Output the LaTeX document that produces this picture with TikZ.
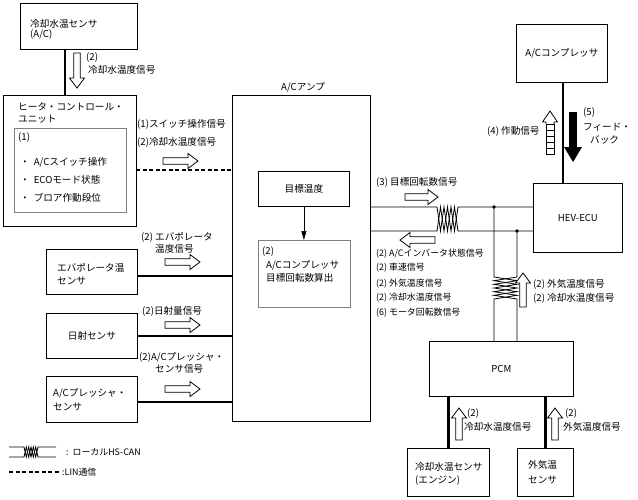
\documentclass[tikz,border=0pt]{standalone}
\usepackage{fontspec}
\setmainfont{Noto Sans CJK JP}
\usetikzlibrary{arrows.meta,calc}
\newcommand{\fsA}{\fontsize{9.6}{11}\selectfont}
\newcommand{\fsB}{\fontsize{8.9}{10}\selectfont}
\tikzset{
 box/.style={draw, line width=0.8pt, inner sep=0, anchor=north west},
 gbox/.style={draw=black!50, line width=0.8pt, inner sep=0, anchor=north west},
 thk/.style={line width=2.4pt},
 bus/.style={line width=0.8pt},
 lin/.style={line width=1.3pt, dash pattern=on 4pt off 2.5pt},
 lbl/.style={anchor=west, inner sep=0, font=\fsA},
 lbls/.style={anchor=west, inner sep=0, font=\fsB},
 ctr/.style={inner sep=0, font=\fsA},
 harr/.style={draw, fill=white, line width=0.8pt},
}
\newcommand{\hollowArrow}[4]{%
 \begin{scope}[shift={(#1,#2)},rotate=#3]
 \draw[harr] (0,-3.2) -- ({#4-10},-3.2) -- ({#4-10},-7.5) -- (#4,0) -- ({#4-10},7.5) -- ({#4-10},3.2) -- (0,3.2) -- cycle;
 \end{scope}}
\begin{document}
\begin{tikzpicture}[x=1pt,y=-1pt]
\useasboundingbox (0,0) rectangle (638,499);
% ---------- boxes ----------
\node[box, minimum width=117pt, minimum height=46pt] (accs) at (20,3) {};
\node[box, minimum width=133pt, minimum height=131pt] (hcu) at (3,95) {};
\node[gbox, minimum width=112pt, minimum height=84pt] (hcuin) at (14,128) {};
\node[box, minimum width=138pt, minimum height=326pt] (amp) at (232,95) {};
\node[box, minimum width=91pt, minimum height=35pt] (tgt) at (258,171) {};
\node[gbox, minimum width=92pt, minimum height=67pt] (calc) at (258,240) {};
\node[box, minimum width=91pt, minimum height=45pt] (evap) at (46,249) {};
\node[box, minimum width=91pt, minimum height=45pt] (solar) at (46,313) {};
\node[box, minimum width=91pt, minimum height=46pt] (press) at (46,376) {};
\node[box, minimum width=91pt, minimum height=58pt] (comp) at (516,24) {};
\node[box, minimum width=89pt, minimum height=69pt] (ecu) at (533,183) {};
\node[box, minimum width=144pt, minimum height=55pt] (pcm) at (429,341) {};
\node[box, minimum width=82pt, minimum height=48pt] (ects) at (407,448) {};
\node[box, minimum width=56pt, minimum height=48pt] (oats) at (517,448) {};
% ---------- box texts ----------
\node[lbl] (accsA) at (30,24) {冷却水温センサ};
\node[lbl] (accsB) at (30,35) {(A/C)};
\node[lbl] (hcuA) at (18,107) {ヒータ・コントロール・};
\node[lbl] (hcuB) at (18,119) {ユニット};
\node[lbl] (inA) at (18,138) {(1)};
\node[lbl] (inB) at (20,162) {・\hspace{4pt}A/Cスイッチ操作};
\node[lbl] (inC) at (20,180) {・\hspace{4pt}ECOモード状態};
\node[lbl] (inD) at (20,198) {・\hspace{4pt}ブロア作動段位};
\node[lbl] (ampL) at (281,87) {A/Cアンプ};
\node[ctr] (tgtT) at (tgt.center) {目標温度};
\node[lbl] (calcA) at (262,252) {(2)};
\node[lbl] (calcB) at (266,265) {A/Cコンプレッサ};
\node[lbl] (calcC) at (266,278) {目標回転数算出};
\node[lbl] (evapA) at (57,268) {エバポレータ温};
\node[lbl] (evapB) at (57,281) {センサ};
\node[ctr] (solarT) at (solar.center) {日射センサ};
\node[lbl] (pressA) at (53,393) {A/Cプレッシャ・};
\node[lbl] (pressB) at (53,407) {センサ};
\node[ctr] (compT) at (comp.center) {A/Cコンプレッサ};
\node[ctr] (ecuT) at (ecu.center) {HEV-ECU};
\node[ctr] (pcmT) at (pcm.center) {PCM};
\node[lbl] (ectsA) at (415,467) {冷却水温センサ};
\node[lbl] (ectsB) at (415,481) {(エンジン)};
\node[lbl] (oatsA) at (528,465) {外気温};
\node[lbl] (oatsB) at (528,480) {センサ};
% ---------- connectors ----------
\coordinate (c1) at (65,49);
\draw[thk] (c1) -- (c1 |- hcu.north);
\coordinate (d1) at (136,170);
\draw[lin] (d1) -- (d1 -| amp.west);
\coordinate (e1) at (137,276);
\draw[thk] (e1) -- (e1 -| amp.west);
\coordinate (s1) at (137,336);
\draw[thk] (s1) -- (s1 -| amp.west);
\coordinate (p1) at (137,402);
\draw[thk] (p1) -- (p1 -| amp.west);
\coordinate (k1) at (563,82);
\draw[thk] (k1) -- (k1 |- ecu.north);
\draw[thk] (ects.north) -- (ects.north |- pcm.south);
\draw[thk] (oats.north) -- (oats.north |- pcm.south);
\draw[-{Triangle[length=9pt,width=5pt]}, line width=0.7pt] (tgt.south) -- (tgt.south |- calc.north);
% bus
\coordinate (bt) at (370,207);
\coordinate (bb) at (370,231);
\coordinate (j1) at (494,207);
\coordinate (j2) at (517,231);
\draw[bus] (bt) -- (437,207) -- (440.5,231) -- (444,207) -- (447.5,231) -- (451,207) -- (454.5,231) -- (458,207) -- (bt -| ecu.west);
\draw[bus] (bb) -- (437,231) -- (440.5,207) -- (444,231) -- (447.5,207) -- (451,231) -- (454.5,207) -- (458,231) -- (bb -| ecu.west);
\draw[bus] (j1) -- (494,277) -- (517,280.67) -- (494,284.33) -- (517,288) -- (494,291.67) -- (517,295.33) -- (494,299) -- (j1 |- pcm.north);
\draw[bus] (j2) -- (517,277) -- (494,280.67) -- (517,284.33) -- (494,288) -- (517,291.67) -- (494,295.33) -- (517,299) -- (j2 |- pcm.north);
\fill (j1) circle (1.8pt);
\fill (j2) circle (1.8pt);
% ---------- signal arrows ----------
\hollowArrow{77}{53}{-90}{35}
\hollowArrow{163}{161}{0}{35}
\hollowArrow{165}{262}{0}{35}
\hollowArrow{165}{325}{0}{35}
\hollowArrow{165}{389}{0}{35}
\hollowArrow{405}{197}{0}{33}
\hollowArrow{435}{240}{180}{35}
\hollowArrow{523}{307}{90}{34}
\hollowArrow{459}{440}{90}{32}
\hollowArrow{555}{440}{90}{32}
% (4) segmented arrow
\draw[harr] (546,124) -- (546,122) -- (542.5,122) -- (550,111) -- (557.5,122) -- (554,122) -- (554,124);
\draw[harr] (546,124) rectangle (554,154);
\foreach \yy in {130,136,142,148} \draw[line width=0.8pt] (546,\yy) -- (554,\yy);
% (5) filled arrow
\fill (569,112) rectangle (577,147);
\fill (564,147) -- (582,147) -- (573,162) -- cycle;
% ---------- signal labels ----------
\node[lbl] (l1) at (86,58) {(2)};
\node[lbl] (l2) at (88,70) {冷却水温度信号};
\node[lbl] (l3) at (137,124) {(1)スイッチ操作信号};
\node[lbl] (l4) at (137,142) {(2)冷却水温度信号};
\node[lbl] (l5) at (141,237) {(2) エバポレータ};
\node[lbl] (l6) at (155,249) {温度信号};
\node[lbl] (l7) at (142,311) {(2)日射量信号};
\node[lbl] (l8) at (139,357) {(2)A/Cプレッシャ・};
\node[lbl] (l9) at (155,369) {センサ信号};
\node[lbl] (l10) at (376,182) {(3) 目標回転数信号};
\node[lbls] (l11) at (376,254) {(2) A/Cインバータ状態信号};
\node[lbls] (l12) at (376,268) {(2) 車速信号};
\node[lbls] (l13) at (376,284) {(2) 外気温度信号};
\node[lbls] (l14) at (376,298) {(2) 冷却水温度信号};
\node[lbls] (l15) at (376,313) {(6) モータ回転数信号};
\node[lbl] (l16) at (533,284) {(2) 外気温度信号};
\node[lbl] (l17) at (533,298) {(2) 冷却水温度信号};
\node[lbl] (l18) at (467,414) {(2)};
\node[lbl] (l19) at (464,427) {冷却水温度信号};
\node[lbl] (l20) at (565,414) {(2)};
\node[lbl] (l21) at (563,427) {外気温度信号};
\node[lbl] (l22) at (487,131) {(4) 作動信号};
\node[lbl] (l23) at (583,113) {(5)};
\node[lbl] (l24) at (583,127) {フィード・};
\node[lbl] (l25) at (590,140) {バック};
% ---------- legend ----------
\draw[bus] (9,447) -- (24,447) -- (26.33,457) -- (28.67,447) -- (31,457) -- (33.33,447) -- (35.67,457) -- (38,447) -- (56,447);
\draw[bus] (9,457) -- (24,457) -- (26.33,447) -- (28.67,457) -- (31,447) -- (33.33,457) -- (35.67,447) -- (38,457) -- (56,457);
\node[lbls] (lg1) at (66,452) {:\ \ ローカルHS-CAN};
\draw[lin] (9,472) -- (60,472);
\node[lbls] (lg2) at (62,472) {:LIN通信};
\end{tikzpicture}
\end{document}
